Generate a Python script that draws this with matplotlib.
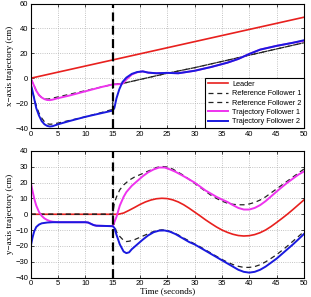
import matplotlib
matplotlib.use("Agg")
import matplotlib.pyplot as plt

# ---------------- data: x-axis trajectory (top) ----------------
t_lead_x = [0, 50]
lead_x = [0, 49]

t_ref1_x = [0, 0.5, 1, 1.5, 2, 2.5, 3, 3.5, 4, 5, 7, 10, 13, 15, 17, 20, 25, 30, 35, 40, 45, 50]
ref1_x = [0, -5, -10, -13.5, -15.5, -16.5, -16.8, -16.5, -16, -15, -13, -10, -7, -5,
          -4, -1, 4, 8.5, 13.5, 18.5, 23.5, 28.5]

t_ref2_x = [0, 0.5, 1, 1.5, 2, 2.5, 3, 3.5, 4, 5, 7, 10, 13, 15, 15, 17, 20, 25, 30, 35, 40, 45, 50]
ref2_x = [-5, -14, -22, -28, -32, -35, -36.5, -37, -36.8, -36, -34, -31, -27.5, -25,
          -5, -4, -1, 4, 8.5, 13.5, 18.5, 23.5, 28.5]

t_tr1_x = [0, 0.5, 1, 1.5, 2, 2.5, 3, 3.5, 4, 5, 7, 10, 13, 15, 16, 16.8, 17.5, 18.5, 19.5,
           20.5, 21.5, 23, 25, 27, 30, 33, 36, 38, 40, 42, 45, 48, 50]
tr1_x = [0, -5, -10, -13.5, -15.5, -16.8, -17.5, -17.6, -17.2, -16, -14, -10.5, -7, -5, -4.8,
         -4.5, -1, 3, 4.8, 5.5, 4.5, 4, 4.3, 4, 6, 9, 12.5, 15.5, 19.5, 23, 26, 28.5, 30]

t_tr2_x = [0, 0.3, 0.7, 1, 1.5, 2, 2.5, 3, 3.5, 4, 5, 7, 10, 13, 15, 15.3, 15.7, 16.2, 16.8,
           17.5, 18.5, 19.5, 20.5, 21.5, 23, 25, 27, 30, 33, 36, 38, 40, 42, 45, 48, 50]
tr2_x = [-5, -10, -18, -24, -30, -34.5, -37, -38.3, -38.8, -38.5, -37, -34.5, -31, -28, -26,
         -24, -16, -9, -3, 0.5, 3.5, 5, 5.5, 4.5, 4, 4.3, 4, 6, 9, 12.5, 15.5, 19.5, 23, 26,
         28.5, 30.5]

# ---------------- data: y-axis trajectory (bottom) ----------------
t_lead_y = [0, 15, 16, 17, 18, 19, 20, 21, 22, 23, 24, 25, 26, 27, 28, 29, 30, 31, 32, 33,
            34, 35, 36, 37, 38, 39, 40, 41, 42, 43, 44, 45, 46, 47, 48, 49, 50]
lead_y = [0, 0, 0, 0.8, 2.5, 4.3, 6.2, 7.8, 9, 9.8, 10.1, 9.9, 9.1, 7.8, 6, 3.8, 1.4, -1,
          -3.5, -5.8, -8, -9.9, -11.4, -12.6, -13.4, -13.7, -13.5, -12.8, -11.6, -9.9, -7.7,
          -5.2, -2.6, 0.1, 3, 6, 9]

t_ref_y = [0, 15, 15.3, 15.7, 16.3, 17, 17.5, 18, 19, 20, 21, 22, 23, 24, 25, 26, 27, 28, 29,
           30, 31, 32, 33, 34, 35, 36, 37, 38, 39, 40, 41, 42, 43, 44, 45, 46, 47, 48, 49, 50]
ref1_y = [0, 0, 7, 11, 15.5, 18.5, 20, 21.5, 23.5, 25, 26.5, 28, 29.5, 30.2, 29.8, 28.5, 26.5,
          24.5, 22, 19.5, 17, 14.5, 12, 10, 8.3, 7, 6.3, 6, 6, 6.5, 7.5, 9, 11, 13.5, 16,
          18.5, 21, 23.5, 26, 28.5]
ref2_y = [0, 0, -7, -11, -14, -16.5, -17.2, -17, -16, -14.5, -13, -11.5, -10.3, -9.8, -10.2,
          -11.5, -13, -15, -16.8, -18.7, -20.5, -22.5, -24.5, -26.5, -28.5, -30.2, -31.7,
          -32.8, -33.5, -33.5, -33, -31.8, -30, -27.8, -25.5, -22.8, -20, -17, -14, -11]

t_tr1_y = [0, 0.3, 0.7, 1, 1.5, 2, 2.5, 3, 3.5, 4, 5, 10, 10.5, 11, 11.5, 12, 15, 15.3, 15.7,
           16.3, 17, 17.5, 18.5, 19.5, 20.5, 21.5, 22.5, 23.5, 24.5, 25.5, 26.5, 28, 29, 30,
           31, 32, 33, 34, 35, 36, 37, 38, 39, 40, 41, 42, 43, 44, 45, 46, 47, 48, 49, 50]
tr1_y = [20, 15, 9, 5.5, 1.5, -1, -2.6, -3.6, -4.3, -4.7, -5, -5, -5.2, -6, -6.8, -7.2, -7.5,
         -5, -1.5, 5.5, 11, 14, 18, 21, 24, 26.5, 28.3, 29.5, 29.5, 28.3, 26.8, 24, 22, 20,
         17.5, 15, 13, 11, 9.3, 7.8, 5.8, 4, 3, 3, 4, 5.8, 8.3, 11.3, 14.3, 17.2, 20, 22.5,
         25, 27]

t_tr2_y = [0, 0.3, 0.6, 1, 1.5, 2, 3, 4, 10, 10.5, 11, 11.5, 12, 15, 15.3, 15.7, 16.3, 17,
           17.5, 18, 18.5, 19.5, 20.5, 21.5, 22.5, 23.5, 24.5, 25.5, 26.5, 28, 29, 30, 31, 32,
           33, 34, 35, 36, 37, 38, 39, 40, 41, 42, 43, 44, 45, 46, 47, 48, 49, 50]
tr2_y = [-20, -15, -11, -8, -6.5, -5.7, -5.2, -5, -5, -5.2, -6, -6.8, -7.2, -7.5, -8.5, -13,
         -19, -23.5, -24.5, -24, -22, -19, -16, -13.3, -11.3, -10.3, -10.2, -11, -12.5,
         -15.5, -17.5, -19, -21, -23, -25, -27, -29, -31, -33, -35, -36.3, -36.8, -36.3, -35,
         -33, -30.5, -28, -25, -22, -19, -15.8, -12.5]

switch_time = 15
x_ticks = list(range(0, 51, 5))
top_yticks = [-40, -20, 0, 20, 40, 60]
bot_yticks = [-40, -30, -20, -10, 0, 10, 20, 30, 40]

labels = ["Leader", "Reference Follower 1", "Reference Follower 2",
          "Trajectory Follower 1", "Trajectory Follower 2"]

# ---------------- plotting ----------------
plt.rcParams['font.family'] = ['Liberation Sans', 'DejaVu Sans']
fig = plt.figure(figsize=(3.11, 2.97), dpi=100)
ax1 = fig.add_axes([0.099, 0.569, 0.878, 0.419])
ax2 = fig.add_axes([0.099, 0.065, 0.878, 0.427])

RED = '#e8201e'
MAG = '#ee33ee'
BLUE = '#1a1adf'

def style(ax, yticks, ylim):
    ax.set_xlim(0, 50)
    ax.set_ylim(*ylim)
    ax.set_xticks(x_ticks)
    ax.set_yticks(yticks)
    ax.tick_params(direction='in', top=True, right=True, labelsize=5.5, length=2,
                   width=0.5, pad=2)
    ax.grid(True, linestyle=':', color='#b0b0b0', linewidth=0.6)
    for s in ax.spines.values():
        s.set_linewidth(0.8)

# top
l0, = ax1.plot(t_lead_x, lead_x, color=RED, lw=1.2)
l1, = ax1.plot(t_ref1_x, ref1_x, color='#222222', lw=0.9, ls=(0, (4, 3)))
l2, = ax1.plot(t_ref2_x, ref2_x, color='#222222', lw=0.9, ls=(0, (4, 3)))
l3, = ax1.plot(t_tr1_x, tr1_x, color=MAG, lw=1.4)
l4, = ax1.plot(t_tr2_x, tr2_x, color=BLUE, lw=1.4)
ax1.axvline(switch_time, color='black', lw=1.6, ls=(0, (4, 2)))
style(ax1, top_yticks, (-40, 60))
ax1.set_ylabel("x\u2212axis trajectory (cm)", family=['Liberation Serif', 'DejaVu Serif'],
               fontsize=6.5, labelpad=1)
leg = ax1.legend([l0, l1, l2, l3, l4], labels, loc='lower right', fontsize=5.3,
                 frameon=True, fancybox=False, framealpha=1, edgecolor='black',
                 handlelength=2.8, handletextpad=0.5, labelspacing=0.3,
                 borderaxespad=0.0, borderpad=0.35)
leg.get_frame().set_linewidth(0.8)

# bottom
ax2.plot(t_lead_y, lead_y, color=RED, lw=1.2)
ax2.plot(t_ref_y, ref1_y, color='#222222', lw=0.9, ls=(0, (4, 3)))
ax2.plot(t_ref_y, ref2_y, color='#222222', lw=0.9, ls=(0, (4, 3)))
ax2.plot(t_tr1_y, tr1_y, color=MAG, lw=1.4)
ax2.plot(t_tr2_y, tr2_y, color=BLUE, lw=1.4)
ax2.axvline(switch_time, color='black', lw=1.6, ls=(0, (4, 2)))
style(ax2, bot_yticks, (-40, 40))
ax2.set_ylabel("y\u2212axis trajectory (cm)", family=['Liberation Serif', 'DejaVu Serif'],
               fontsize=6.5, labelpad=1)
ax2.set_xlabel("Time (seconds)", family=['Liberation Serif', 'DejaVu Serif'],
               fontsize=6.5, labelpad=0)

fig.savefig("out.png", dpi=100)
